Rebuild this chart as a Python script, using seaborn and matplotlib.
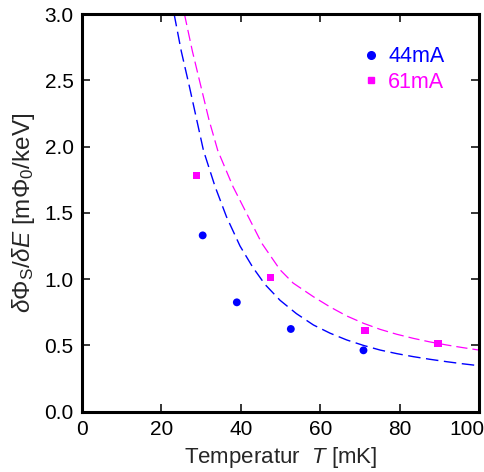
import matplotlib
matplotlib.use("Agg")
import matplotlib.pyplot as plt
import matplotlib.transforms as mtransforms
import seaborn as sns
import pandas as pd
from matplotlib.lines import Line2D

# measured data
t_44 = [30.4, 39.0, 52.6, 70.9]
v_44 = [1.33, 0.825, 0.624, 0.463]
t_61 = [28.9, 47.4, 71.3, 89.7]
v_61 = [1.78, 1.01, 0.611, 0.513]

# fit curves
fit_t_44 = [23.2, 25.0, 27.0, 30.6, 33.5, 36.4, 39.8, 43.0, 46.1, 49.9, 54.0, 58.3, 62.5, 66.7, 70.9, 75.1, 79.3, 83.5, 87.7, 91.9, 96.0, 100.0]
fit_v_44 = [3.00, 2.72, 2.46, 1.97, 1.70, 1.47, 1.25, 1.09, 0.96, 0.84, 0.74, 0.654, 0.592, 0.541, 0.500, 0.465, 0.438, 0.415, 0.395, 0.377, 0.361, 0.347]
fit_t_61 = [25.8, 27.8, 29.9, 32.0, 34.2, 38.0, 41.9, 45.3, 49.9, 53.2, 58.3, 62.5, 66.7, 70.9, 75.1, 79.3, 83.5, 87.7, 91.9, 96.0, 100.0]
fit_v_61 = [3.00, 2.72, 2.46, 2.20, 1.97, 1.70, 1.47, 1.27, 1.07, 0.97, 0.867, 0.790, 0.722, 0.667, 0.621, 0.584, 0.553, 0.526, 0.503, 0.483, 0.465]

x_ticks = [0, 20, 40, 60, 80, 100]
y_ticks = [0.0, 0.5, 1.0, 1.5, 2.0, 2.5, 3.0]

blue = "#0000FF"
magenta = "#FF00FF"

sns.set_style("ticks")
plt.rcParams["font.family"] = ["Liberation Sans", "DejaVu Sans"]
plt.rcParams["mathtext.fontset"] = "custom"
plt.rcParams["mathtext.rm"] = "Liberation Sans"
plt.rcParams["mathtext.it"] = "Liberation Sans:italic"
plt.rcParams["mathtext.bf"] = "Liberation Sans:bold"

fig = plt.figure(figsize=(4.85, 4.72), dpi=100)
ax = fig.add_axes([82/485, 1 - 411.7/472, 397/485, 397.7/472])

df44 = pd.DataFrame({"T": fit_t_44, "v": fit_v_44})
df61 = pd.DataFrame({"T": fit_t_61, "v": fit_v_61})
sns.lineplot(data=df44, x="T", y="v", ax=ax, color=blue, lw=1.0,
             dashes=False, sort=False, linestyle=(0, (9, 4)))
sns.lineplot(data=df61, x="T", y="v", ax=ax, color=magenta, lw=0.9,
             dashes=False, sort=False, linestyle=(0, (9, 4)))

p44 = pd.DataFrame({"T": t_44, "v": v_44})
p61 = pd.DataFrame({"T": t_61, "v": v_61})
sns.scatterplot(data=p44, x="T", y="v", ax=ax, color=blue, marker="o", s=32,
                edgecolor="none", zorder=5)
sns.scatterplot(data=p61, x="T", y="v", ax=ax, color=magenta, marker="s", s=28,
                edgecolor="none", zorder=5)

ax.set_xlim(0, 100)
ax.set_ylim(0, 3.0)
ax.set_xticks(x_ticks)
ax.set_yticks(y_ticks)
ax.set_xticklabels([str(t) for t in x_ticks])
ax.set_yticklabels([f"{t:.1f}" for t in y_ticks])

for s in ax.spines.values():
    s.set_visible(True)
    s.set_linewidth(2.2)
    s.set_color("black")
ax.tick_params(direction="in", length=6, width=1.1, top=True, right=True,
               labelsize=15, pad=6, colors="black")

# keep the last x tick label inside the image, like the reference
last = ax.get_xticklabels()[-1]
last.set_transform(last.get_transform() +
                   mtransforms.ScaledTranslation(-0.12, 0, fig.dpi_scale_trans))

ax.set_xlabel(r"Temperatur  $\mathit{T}$ [mK]", fontsize=16, labelpad=4)
ax.set_ylabel(r"$\delta\Phi_\mathrm{S}/\delta\mathit{E}$ [m$\Phi_0$/keV]",
              fontsize=17.5, labelpad=5)

handles = [Line2D([], [], color=blue, marker="o", ls="none", markersize=5.5),
           Line2D([], [], color=magenta, marker="s", ls="none", markersize=5.0)]
leg = ax.legend(handles, ["44mA", "61mA"], loc="upper left",
                bbox_to_anchor=(0.69, 0.94), frameon=False, fontsize=15.5,
                handlelength=0.6, handletextpad=0.5, labelspacing=0.2,
                borderaxespad=0)
for txt, c in zip(leg.get_texts(), [blue, magenta]):
    txt.set_color(c)

fig.savefig("out.png", dpi=100)
